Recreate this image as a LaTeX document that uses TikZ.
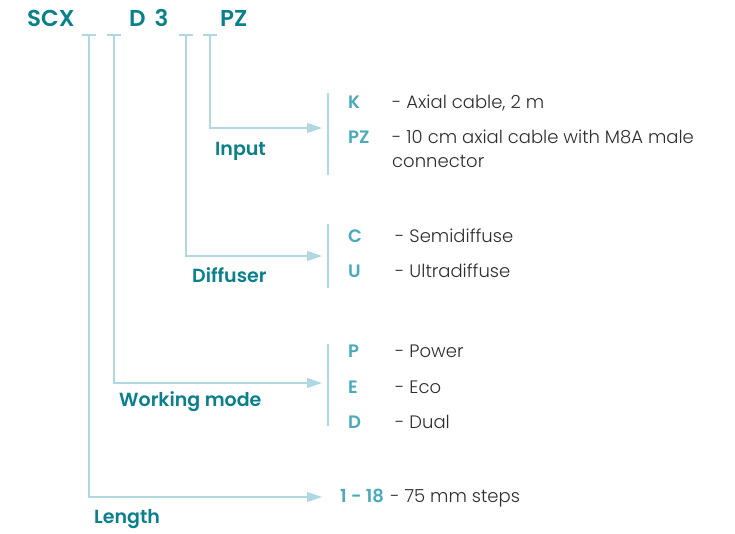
\documentclass[tikz,border=0pt]{standalone}
\usepackage{fontspec}
\setmainfont{Poppins}[BoldFont={Poppins SemiBold}]
\newfontfamily\lightfont{Poppins Light}
\usetikzlibrary{positioning,arrows.meta}
\definecolor{codeteal}{RGB}{10,128,140}
\definecolor{optteal}{RGB}{72,170,186}
\definecolor{linkblue}{RGB}{176,216,226}
\definecolor{txtgray}{RGB}{45,45,45}
\tikzset{
  code/.style   = {anchor=base west, inner sep=0pt, text=codeteal, font=\fontsize{23}{26}\selectfont\bfseries},
  group/.style  = {anchor=base west, inner sep=0pt, text=codeteal, font=\fontsize{19}{22}\selectfont\bfseries},
  opt/.style    = {anchor=base west, inner sep=0pt, text=optteal, font=\fontsize{18}{22}\selectfont\bfseries},
  desc/.style   = {anchor=base west, inner sep=0pt, text=txtgray, align=left, font=\lightfont\fontsize{18}{24}\selectfont},
  link/.style   = {draw=linkblue, line width=1.2pt},
  flow/.style   = {link, -{Triangle[length=15pt, width=10pt]}},
}

\begin{document}
\begin{tikzpicture}[x=1pt,y=-1pt]
  \useasboundingbox (0,0) rectangle (735,533);
  % order code
  \node[code] (scx) at (27,26) {SCX};
  \node[code] (d3) at (129,26) {D\hskip9pt 3};
  \node[code] (pz) at (220,26) {PZ};
  % ticks under the code
  \coordinate (tLen) at (89,35);
  \coordinate (tMode) at (114,35);
  \coordinate (tDiff) at (186,35);
  \coordinate (tIn) at (210,35);
  \foreach \t in {tLen,tMode,tDiff,tIn}
    \draw[link] ([xshift=-7pt]\t) -- ([xshift=7pt]\t);

  % Input
  \coordinate (inTip) at (322,128);
  \coordinate (inBarTop) at (328,93);
  \coordinate (inBarBot) at (328,175);
  \draw[flow] (tIn) |- (inTip);
  \draw[link] (inBarTop) -- (inBarBot);
  \node[group] (input) at (215,155) {Input};
  \node[opt] (k) at (348,108) {K};
  \node[desc] (kDesc) at (392,108) {- Axial cable, 2 m};
  \node[opt] (pzOpt) at (348,143) {PZ};
  \node[desc] (pzDesc) at (392,167) {- 10 cm axial cable with M8A male\\connector};

  % Diffuser
  \coordinate (diffTip) at (322,256);
  \coordinate (diffBarTop) at (328,224);
  \coordinate (diffBarBot) at (328,288);
  \draw[flow] (tDiff) |- (diffTip);
  \draw[link] (diffBarTop) -- (diffBarBot);
  \node[group] (diffuser) at (192,282) {Diffuser};
  \node[opt] (c) at (348,242) {C};
  \node[desc] (cDesc) at (395,242) {- Semidiffuse};
  \node[opt] (u) at (348,277) {U};
  \node[desc] (uDesc) at (395,277) {- Ultradiffuse};

  % Working mode
  \coordinate (modeTip) at (322,383);
  \coordinate (modeBarTop) at (328,344);
  \coordinate (modeBarBot) at (328,426);
  \draw[flow] (tMode) |- (modeTip);
  \draw[link] (modeBarTop) -- (modeBarBot);
  \node[group] (mode) at (119,406) {Working mode};
  \node[opt] (p) at (348,357) {P};
  \node[desc] (pDesc) at (395,357) {- Power};
  \node[opt] (e) at (348,393) {E};
  \node[desc] (eDesc) at (395,393) {- Eco};
  \node[opt] (dOpt) at (348,428) {D};
  \node[desc] (dDesc) at (395,428) {- Dual};

  % Length
  \coordinate (lenTip) at (322,497);
  \draw[flow] (tLen) |- (lenTip);
  \node[group] (length) at (94,523) {Length};
  \node[opt] (range) at (340,502) {1 - 18};
  \node[desc, right=6pt of range.base east, anchor=base west] (rangeDesc) {- 75 mm steps};
\end{tikzpicture}
\end{document}
